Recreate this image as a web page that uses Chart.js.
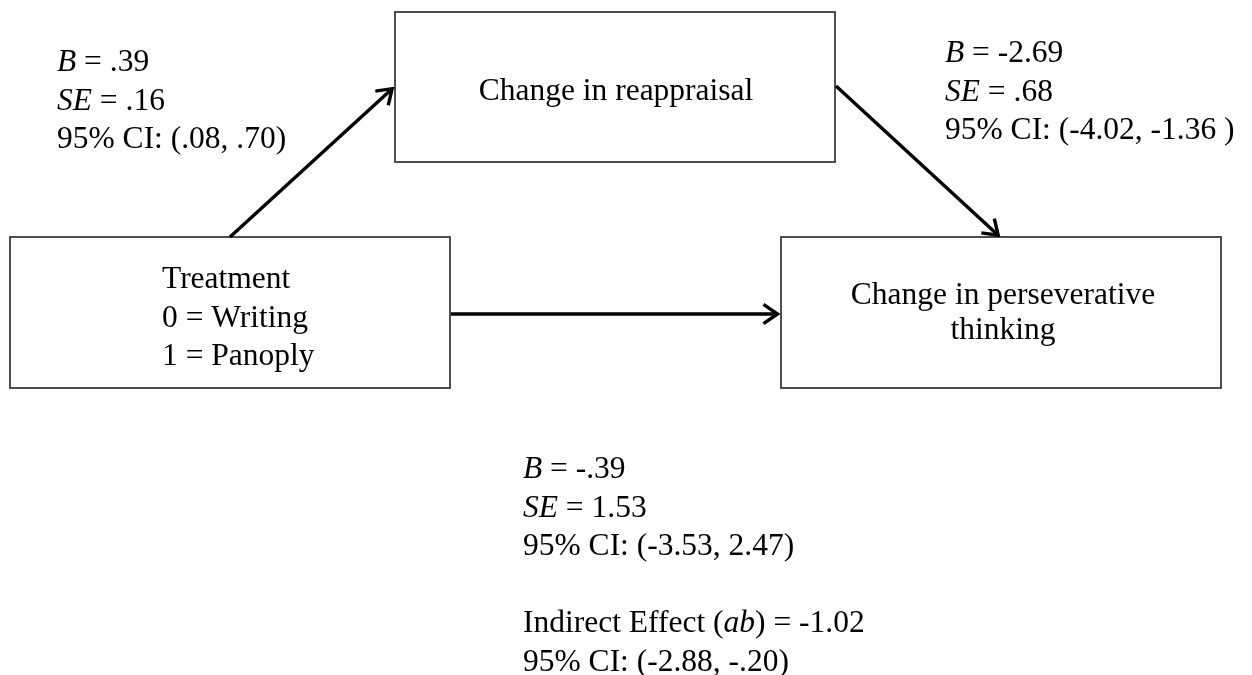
<!DOCTYPE html>
<html>
<head>
<meta charset="utf-8">
<script src="https://cdn.jsdelivr.net/npm/chart.js@4"></script>
<style>
  html, body { margin: 0; padding: 0; background: #fff; }
  #wrap { width: 1252px; height: 675px; }
</style>
</head>
<body>
<div id="wrap"><canvas id="chart"></canvas></div>
<script>
// variables in the mediation model (one entry per box, one string per line)
const boxLabels = [
    ["Change in reappraisal"],
    ["Treatment", "0 = Writing", "1 = Panoply"],
    ["Change in perseverative", "thinking"]
]
// path statistics, *text* = italic
const pathA = ["*B* = .39", "*SE* = .16", "95% CI: (.08, .70)"]
const pathB = ["*B* = -2.69", "*SE* = .68", "95% CI: (-4.02, -1.36 )"]
const pathC = ["*B* = -.39", "*SE* = 1.53", "95% CI: (-3.53, 2.47)", "", "Indirect Effect (*ab*) = -1.02", "95% CI: (-2.88, -.20)"]

// layout, in axis units (x 0..1252, y 0..675 from the top)
const boxes = [
    { x0: 395, y0: 12, x1: 835, y1: 162, align: "center", tx: 616, base: 100, lh: 38 },
    { x0: 10, y0: 237, x1: 450, y1: 388, align: "left", tx: 162, base: 288, lh: 38.5 },
    { x0: 781, y0: 237, x1: 1221, y1: 388, align: "center", tx: 1003, base: 304, lh: 35 }
]
const arrows = [[230, 237, 394, 87], [836, 86, 1000, 237], [451, 314, 780, 314]]
const blocks = [
    { lines: pathA, x: 57, base: 71 },
    { lines: pathB, x: 945, base: 62 },
    { lines: pathC, x: 523, base: 478 }
]

const FONT = "Liberation Serif, Times New Roman, serif"
const SIZE = 31.5

function parts(str) {
    return str.split("*").map((t, i) => ({ t, it: i % 2 === 1 }))
}
function setFont(ctx, it) {
    ctx.font = (it ? "italic " : "") + SIZE + "px " + FONT
}
function textWidth(ctx, str) {
    let w = 0
    parts(str).forEach(p => { setFont(ctx, p.it); w += ctx.measureText(p.t).width })
    return w
}
function richText(ctx, str, x, y, align) {
    if (align === "center") x -= textWidth(ctx, str) / 2
    parts(str).forEach(p => {
        setFont(ctx, p.it)
        ctx.fillText(p.t, x, y)
        x += ctx.measureText(p.t).width
    })
}

const diagram = {
    id: "diagram",
    afterDraw(chart) {
        const ctx = chart.ctx
        const sx = v => chart.scales.x.getPixelForValue(v)
        const sy = v => chart.scales.y.getPixelForValue(v)
        ctx.save()
        ctx.textBaseline = "alphabetic"
        ctx.textAlign = "left"
        ctx.fillStyle = "#000"

        // boxes
        boxes.forEach((b, i) => {
            ctx.strokeStyle = "#3c3c3c"
            ctx.lineWidth = 1.8
            ctx.strokeRect(sx(b.x0), sy(b.y0), sx(b.x1) - sx(b.x0), sy(b.y1) - sy(b.y0))
            boxLabels[i].forEach((line, k) => {
                richText(ctx, line, sx(b.tx), sy(b.base + k * b.lh), b.align)
            })
        })

        // arrows
        ctx.strokeStyle = "#000"
        ctx.lineWidth = 3.4
        ctx.lineCap = "butt"
        ctx.lineJoin = "miter"
        arrows.forEach(a => {
            const x0 = sx(a[0]), y0 = sy(a[1]), x1 = sx(a[2]), y1 = sy(a[3])
            const ang = Math.atan2(y1 - y0, x1 - x0)
            const ex = x1 - 2.5 * Math.cos(ang), ey = y1 - 2.5 * Math.sin(ang)
            ctx.beginPath()
            ctx.moveTo(x0, y0)
            ctx.lineTo(ex, ey)
            ctx.stroke()
            const len = 17, spread = 0.6
            ctx.beginPath()
            ctx.moveTo(ex - len * Math.cos(ang - spread), ey - len * Math.sin(ang - spread))
            ctx.lineTo(ex, ey)
            ctx.lineTo(ex - len * Math.cos(ang + spread), ey - len * Math.sin(ang + spread))
            ctx.stroke()
        })

        // statistics
        blocks.forEach(bl => {
            bl.lines.forEach((line, k) => {
                if (line) richText(ctx, line, sx(bl.x), sy(bl.base + k * 38.5), "left")
            })
        })
        ctx.restore()
    }
}

window.addEventListener("load", () => {
    const ctx = document.getElementById("chart")
    new Chart(ctx, {
        type: "scatter",
        data: { datasets: [{ data: [], pointRadius: 0 }] },
        options: {
            responsive: true,
            maintainAspectRatio: false,
            animation: false,
            layout: { padding: 0 },
            plugins: { legend: { display: false }, tooltip: { enabled: false } },
            scales: {
                x: { type: "linear", min: 0, max: 1252, display: false },
                y: { type: "linear", min: 0, max: 675, reverse: true, display: false }
            }
        },
        plugins: [diagram]
    })
})
</script>
</body>
</html>
